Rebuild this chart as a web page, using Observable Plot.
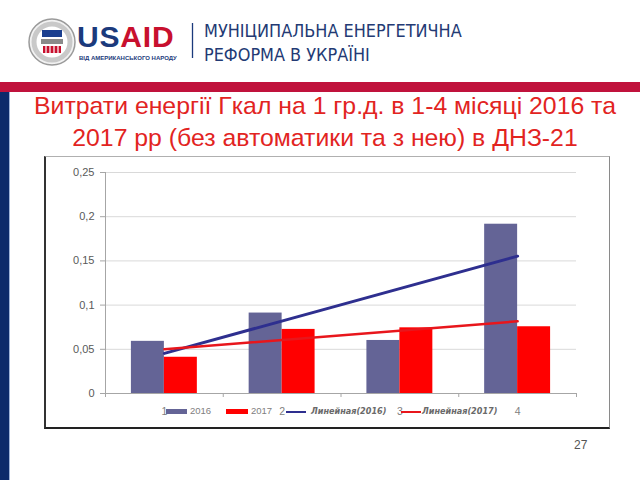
<!DOCTYPE html>
<html>
<head>
<meta charset="utf-8">
<script src="https://cdn.jsdelivr.net/npm/d3@7"></script>
<script src="https://cdn.jsdelivr.net/npm/@observablehq/plot@0.6"></script>
<style>
  html, body { margin: 0; padding: 0; background: #fff; }
  #page { position: relative; width: 640px; height: 480px; overflow: hidden; font-family: "Liberation Sans", Arial, sans-serif; }
  .abs { position: absolute; }
  #redband { left: 0; top: 82px; width: 640px; height: 10px; background: #c0123c; }
  #navybar { left: 0; top: 92px; width: 9px; height: 388px; background: #0d2a6b; border-right: 1px solid #9fb3d9; }
  #title { left: 10px; top: 90px; width: 630px; text-align: center; color: #e2241f; font-size: 24.8px; line-height: 32px; white-space: nowrap; }
  #chartbox { left: 44px; top: 156px; width: 563px; height: 270px; border-top: 1px solid #b0b0b0; border-right: 1px solid #8a8a8a; border-left: 2px solid #333; border-bottom: 2px solid #222; background: #fff; }
  #chartbox svg { position: absolute; left: 0; top: 0; }
  .leg { position: absolute; top: 405px; font-size: 9.5px; color: #808080; line-height: 12px; white-space: nowrap; }
  .sw { position: absolute; height: 5px; top: 409px; }
  .ln { position: absolute; height: 1.5px; top: 411px; }
  #hdr1, #hdr2 { left: 204px; color: #233a74; font-family: "Liberation Sans Narrow", "DejaVu Sans Condensed", sans-serif; font-stretch: condensed; font-size: 17.9px; white-space: nowrap; }
  #hdr1 { top: 20px; }
  #hdr2 { top: 44px; }
  #pnum { left: 574px; top: 438px; font-size: 12px; color: #555; }
</style>
</head>
<body>
<div id="page">
  <svg class="abs" style="left:0;top:0" width="200" height="80">
    <circle cx="52" cy="42" r="23" fill="#f2f2f2" stroke="#9a9a9a" stroke-width="1.5"/>
    <circle cx="52" cy="42" r="18" fill="#fff" stroke="#c9c9c9" stroke-width="5"/>
    <rect x="42" y="30" width="20" height="7" fill="#1b3f8f"/>
    <rect x="41" y="39" width="22" height="5" fill="#8a8a8a"/>
    <rect x="43" y="46" width="18" height="7" fill="#c8102e"/>
    <line x1="46" y1="46" x2="46" y2="53" stroke="#fff" stroke-width="1.2"/>
    <line x1="50" y1="46" x2="50" y2="53" stroke="#fff" stroke-width="1.2"/>
    <line x1="54" y1="46" x2="54" y2="53" stroke="#fff" stroke-width="1.2"/>
    <line x1="58" y1="46" x2="58" y2="53" stroke="#fff" stroke-width="1.2"/>
    <text x="77" y="47" font-family="Liberation Sans, Arial" font-weight="bold" font-size="30" letter-spacing="0.8"><tspan fill="#1b3a7c">US</tspan><tspan fill="#c8102e">AID</tspan></text>
    <text x="79" y="59.5" font-family="Liberation Sans Narrow, Liberation Sans, Arial" font-weight="bold" font-size="6" fill="#1b3a7c">ВІД АМЕРИКАНСЬКОГО НАРОДУ</text>
    <line x1="192.5" y1="23" x2="192.5" y2="58" stroke="#1b3a7c" stroke-width="1.3"/>
  </svg>
  <div id="hdr1" class="abs">МУНІЦИПАЛЬНА ЕНЕРГЕТИЧНА</div>
  <div id="hdr2" class="abs">РЕФОРМА В УКРАЇНІ</div>
  <div id="redband" class="abs"></div>
  <div id="navybar" class="abs"></div>
  <div id="title" class="abs">Витрати енергії Гкал на 1 гр.д. в 1-4 місяці 2016 та<br>2017 рр (без автоматики та з нею) в ДНЗ-21</div>
  <div id="chartbox" class="abs"></div>
  <div id="legend"></div>
  <div id="pnum" class="abs">27</div>
</div>
<script>
// ---- data ----
const months = [1, 2, 3, 4];
const seriesNames = ["2016", "2017"];
const values2016 = [0.059, 0.091, 0.060, 0.1915];
const values2017 = [0.041, 0.0725, 0.0743, 0.0755];
const yTicks = [0, 0.05, 0.1, 0.15, 0.2, 0.25];
const xTickLabels = ["1", "2", "3", "4"];
const trendNames = ["Линейная(2016)", "Линейная(2017)"];

const colors = { "2016": "#646496", "2017": "#ff0000" };
const trendColors = { "2016": "#2e2f8f", "2017": "#e8161c" };

const rows = [];
months.forEach((m, i) => {
  rows.push({ month: m, series: seriesNames[0], value: values2016[i] });
  rows.push({ month: m, series: seriesNames[1], value: values2017[i] });
});
const half = 0.28;

const plot = Plot.plot({
  width: 563,
  height: 270,
  marginLeft: 59,
  marginRight: 33,
  marginTop: 15,
  marginBottom: 34,
  style: { fontFamily: "Liberation Sans, Arial, sans-serif", fontSize: "11px", color: "#595959", background: "transparent" },
  x: { domain: [0.5, 4.5], axis: null, label: null },
  y: { domain: [0, 0.25], axis: null, label: null },
  marks: [
    Plot.gridY(yTicks, { stroke: "#d9d9d9", strokeOpacity: 1, strokeWidth: 1 }),
    Plot.axisY({ ticks: yTicks, tickFormat: d => String(d).replace(".", ","), tickSize: 5, tickPadding: 6, stroke: "#a6a6a6", fill: "#595959", fontSize: 11, label: null }),
    Plot.ruleX([0.5], { y1: 0, y2: 0.25, stroke: "#a6a6a6" }),
    Plot.ruleY([0], { x1: 0.5, x2: 4.5, stroke: "#a6a6a6" }),
    Plot.axisX({ ticks: [0.5, 1.5, 2.5, 3.5, 4.5], tickFormat: () => "", tickSize: 4, stroke: "#a6a6a6", label: null }),
    Plot.rectY(rows, {
      x1: d => d.series === "2016" ? d.month - half : d.month,
      x2: d => d.series === "2016" ? d.month : d.month + half,
      y1: 0, y2: "value",
      fill: d => colors[d.series]
    }),
    Plot.linearRegressionY(rows.filter(d => d.series === "2016"), { x: "month", y: "value", stroke: trendColors["2016"], strokeWidth: 3, ci: 0 }),
    Plot.linearRegressionY(rows.filter(d => d.series === "2017"), { x: "month", y: "value", stroke: trendColors["2017"], strokeWidth: 2.5, ci: 0 }),
    Plot.axisX({ ticks: months, tickFormat: (d, i) => xTickLabels[i], tickSize: 0, tickPadding: 14, fill: "#808080", fontSize: 10.5, label: null })
  ]
});
document.getElementById("chartbox").appendChild(plot);

// ---- legend overlay ----
const legend = document.getElementById("legend");
function add(cls, style, text) {
  const el = document.createElement("div");
  el.className = cls;
  Object.assign(el.style, style);
  if (text) el.textContent = text;
  legend.appendChild(el);
}
const italicFont = { fontWeight: "bold", fontStyle: "italic", fontSize: "9px", fontFamily: "Liberation Sans Narrow, DejaVu Sans Condensed, sans-serif", color: "#6a6a6a" };
add("sw", { left: "166px", width: "21px", background: colors["2016"] });
add("leg", { left: "190px" }, seriesNames[0]);
add("sw", { left: "226px", width: "22px", background: colors["2017"] });
add("leg", { left: "251px" }, seriesNames[1]);
add("ln", { left: "286px", width: "20px", background: trendColors["2016"] });
add("leg", Object.assign({ left: "311px" }, italicFont), trendNames[0]);
add("ln", { left: "401px", width: "20px", background: trendColors["2017"] });
add("leg", Object.assign({ left: "422px" }, italicFont), trendNames[1]);
</script>
</body>
</html>
